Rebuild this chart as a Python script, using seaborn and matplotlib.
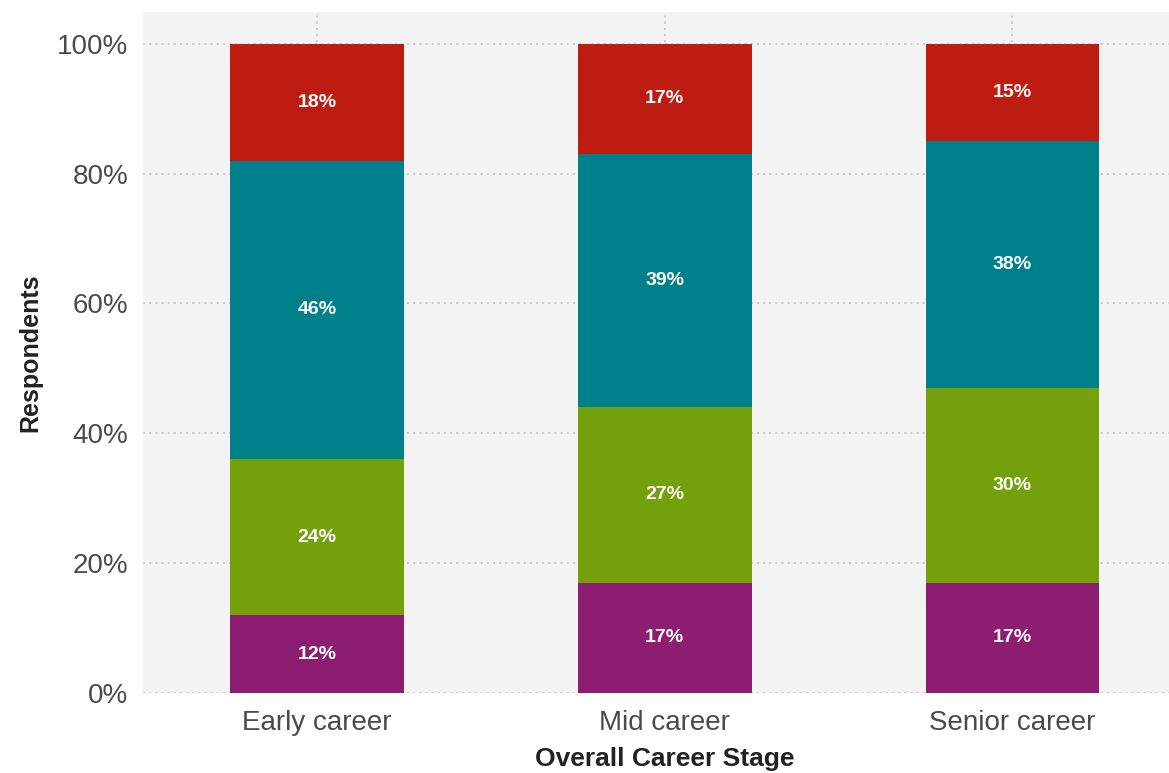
import numpy as np
import pandas as pd
import matplotlib
matplotlib.use("Agg")
import matplotlib.pyplot as plt
import seaborn as sns

# Share of respondents (%) per career stage, stacked from bottom to top
stages = ["Early career", "Mid career", "Senior career"]
purple_vals = [12, 17, 17]
green_vals = [24, 27, 30]
teal_vals = [46, 39, 38]
red_vals = [18, 17, 15]

layer_colors = ["#8c1d71", "#73a00b", "#00808a", "#be1c10"]
y_ticks = [0, 20, 40, 60, 80, 100]
y_tick_labels = ["0%", "20%", "40%", "60%", "80%", "100%"]

sns.set_theme(style="white")
plt.rcParams["font.family"] = ["Liberation Sans", "DejaVu Sans"]

layers = [purple_vals, green_vals, teal_vals, red_vals]
cum = np.cumsum(np.array(layers, dtype=float), axis=0)

fig = plt.figure(figsize=(11.69, 7.73), dpi=100)
ax = fig.add_axes([143 / 1169, 1 - 693 / 773, 1 - 143 / 1169, (693 - 12) / 773])
ax.set_facecolor("#f3f3f3")

# Draw cumulative totals from the top layer down so each segment shows its own share
for i in range(len(layers) - 1, -1, -1):
    df = pd.DataFrame({"stage": stages, "total": cum[i]})
    sns.barplot(data=df, x="stage", y="total", color=layer_colors[i],
                width=0.5, saturation=1, linewidth=0, ax=ax, zorder=2)

# Segment labels at the middle of each segment
for i, vals in enumerate(layers):
    for j, v in enumerate(vals):
        mid = cum[i][j] - v / 2
        ax.text(j, mid, f"{v}%", ha="center", va="center", color="white",
                fontsize=14, fontweight="bold", zorder=3)

ax.set_xlim(-0.5, 2.45)
ax.set_ylim(0, 104.9)
ax.set_yticks(y_ticks)
ax.set_yticklabels(y_tick_labels)

ax.grid(True, axis="both", color="#c8c8c8", linestyle=(0, (1.2, 2.2)), linewidth=1.3)
ax.set_axisbelow(True)
for s in ax.spines.values():
    s.set_visible(False)
ax.tick_params(axis="both", length=0, labelsize=20, labelcolor="#4a4a4a")
ax.tick_params(axis="y", pad=10.5)
ax.tick_params(axis="x", pad=12)

ax.set_xlabel("Overall Career Stage", fontsize=19, fontweight="bold", color="#222222")
ax.set_ylabel("Respondents", fontsize=18, fontweight="bold", color="#222222")
x0, x1 = ax.get_xlim()
ax.xaxis.set_label_coords((1 - x0) / (x1 - x0), -0.08)
ax.yaxis.set_label_coords(-0.098, 0.5)

fig.savefig("out.png", dpi=100, facecolor="white")
